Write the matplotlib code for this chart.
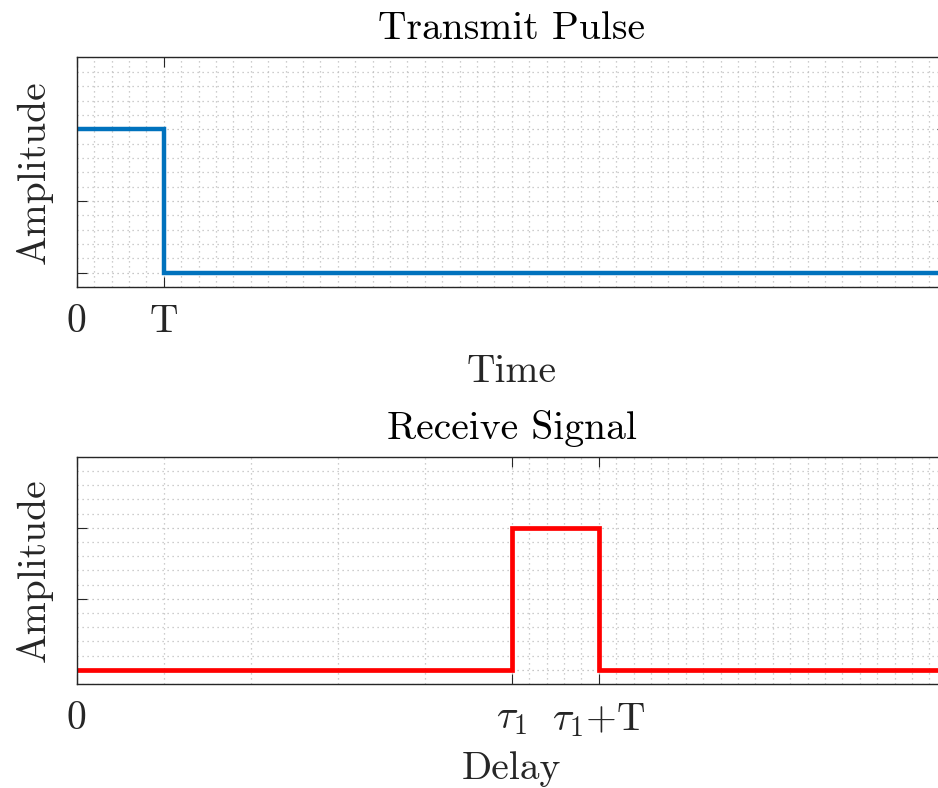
import matplotlib
matplotlib.use("Agg")
import matplotlib.pyplot as plt
import numpy as np

# ---- data ----
transmit_time = [0, 1, 1, 10]
transmit_amp = [1, 1, 0, 0]
receive_delay = [0, 5, 5, 6, 6, 10]
receive_amp = [0, 0, 1, 1, 0, 0]

top_xticks = [0, 1]
top_xticklabels = ["0", "T"]
bot_xticks = [0, 5, 6]
bot_xticklabels = ["0", r"$\tau_1$", r"$\tau_1$+T"]
yticks = [0, 0.5, 1]

plt.rcParams["font.family"] = "serif"
plt.rcParams["font.serif"] = ["cmr10"]
plt.rcParams["mathtext.fontset"] = "cm"
plt.rcParams["axes.unicode_minus"] = False
plt.rcParams["axes.formatter.use_mathtext"] = True

FS = 28.5
dark = "#262626"

fig = plt.figure(figsize=(9.38, 7.88), dpi=100)
ax1 = fig.add_axes([76.7 / 938, 1 - 287 / 788, 870 / 938, (287 - 57.5) / 788])
ax2 = fig.add_axes([76.7 / 938, 1 - 684 / 788, 870 / 938, (684 - 456.7) / 788])


def style(ax, xminor):
    ax.set_xlim(0, 10)
    ax.set_ylim(-0.1, 1.5)
    ax.set_yticks(yticks)
    ax.set_yticklabels(["", "", ""])
    ax.set_xticks(xminor, minor=True)
    ax.set_yticks(np.round(np.arange(-0.1, 1.51, 0.1), 2), minor=True)
    ax.tick_params(which="major", direction="in", length=7.2, width=0.8,
                   color=dark, top=True, right=True, labelsize=FS,
                   labelcolor=dark, pad=12.5)
    ax.tick_params(axis="y", which="major", pad=3)
    ax.tick_params(which="minor", length=0, top=True, right=True)
    ax.grid(True, which="major", linestyle=(0, (1, 3)), color="#b5b5b5", linewidth=0.9)
    ax.grid(True, which="minor", linestyle=(0, (1, 3)), color="#bdbdbd", linewidth=0.9)
    ax.set_axisbelow(True)
    for s in ax.spines.values():
        s.set_color(dark)
        s.set_linewidth(1.0)


top_minor = [round(v, 1) for v in np.arange(0.2, 10.0, 0.2)]
top_minor = [v for v in top_minor if v not in top_xticks]
style(ax1, top_minor)
ax1.plot(transmit_time, transmit_amp, color="#0072BD", linewidth=3.2, solid_joinstyle="miter")
ax1.set_xticks(top_xticks)
ax1.set_xticklabels(top_xticklabels)
ax1.set_title("Transmit Pulse", fontsize=FS, color="black", pad=13)
ax1.set_xlabel("Time", fontsize=FS, color=dark, labelpad=10)
ax1.set_ylabel("Amplitude", fontsize=FS, color=dark, labelpad=14)

bot_minor = [1, 2, 3, 4] + [round(v, 1) for v in np.arange(5.2, 10.0, 0.2)]
bot_minor = [v for v in bot_minor if v not in bot_xticks]
style(ax2, bot_minor)
ax2.plot(receive_delay, receive_amp, color="#FF0000", linewidth=3.4, solid_joinstyle="miter")
ax2.set_xticks(bot_xticks)
ax2.set_xticklabels(bot_xticklabels)
ax2.set_title("Receive Signal", fontsize=FS, color="black", pad=13)
ax2.set_xlabel("Delay", fontsize=FS, color=dark, labelpad=9)
ax2.set_ylabel("Amplitude", fontsize=FS, color=dark, labelpad=14)

fig.savefig("out.png", dpi=100)
